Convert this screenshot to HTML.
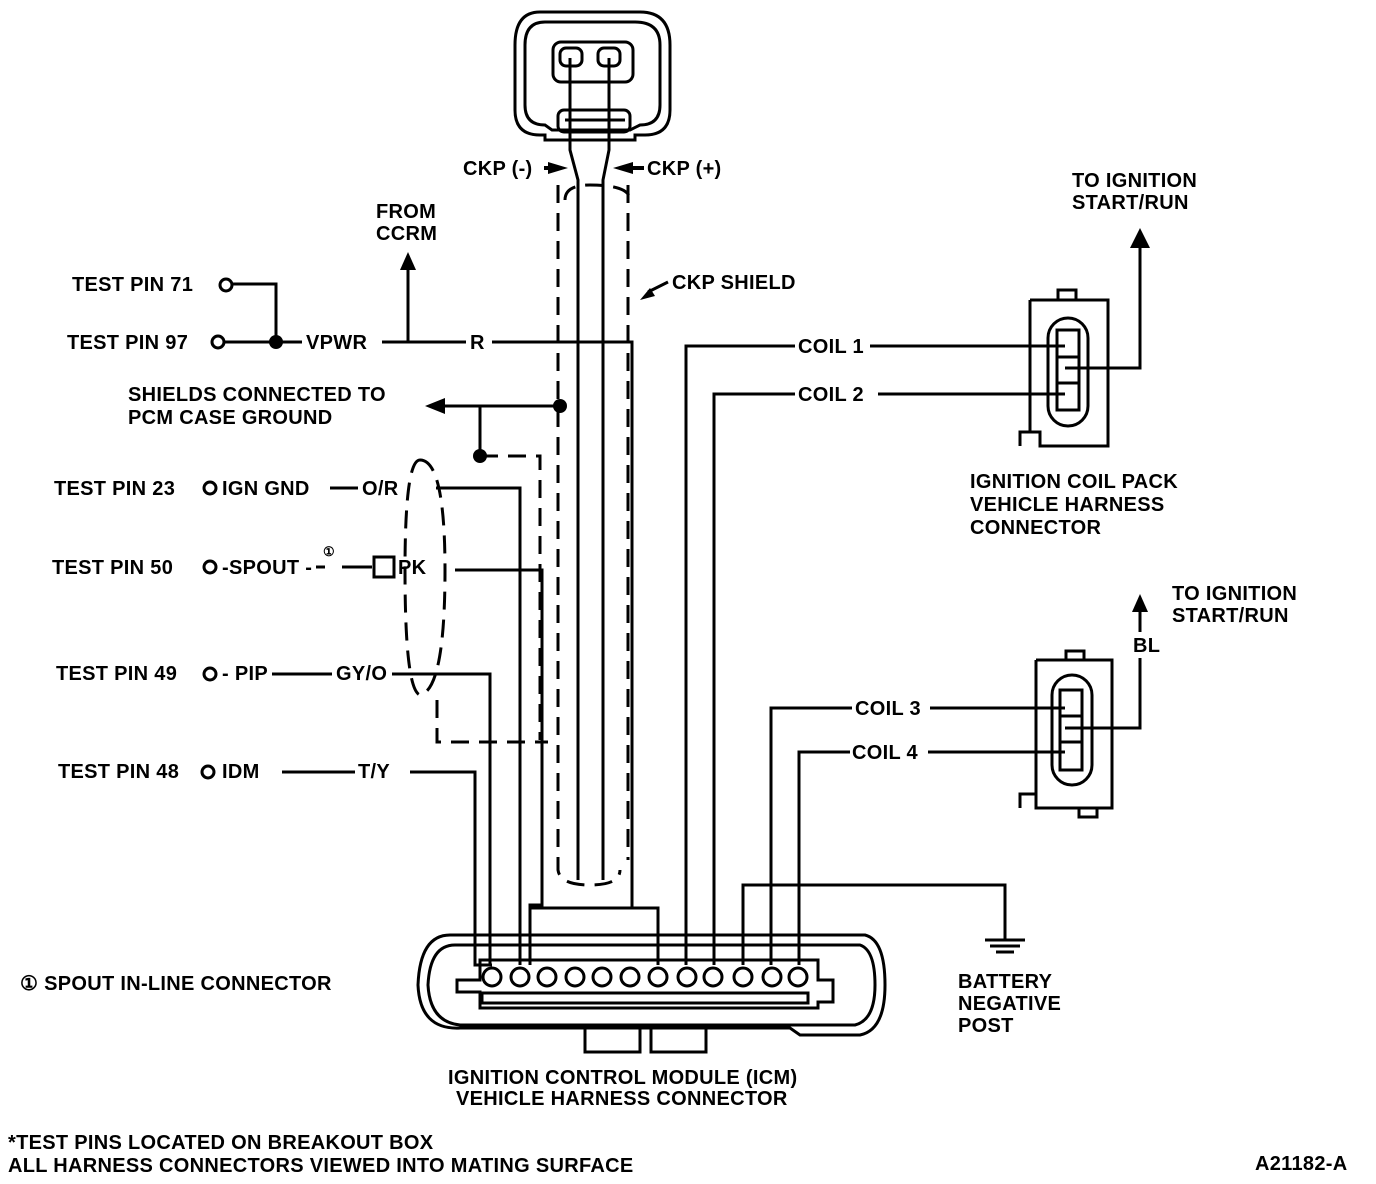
<!DOCTYPE html>
<html><head><style>
body{margin:0;background:#fff}
svg{display:block}
text{font-family:"Liberation Sans",Arial,sans-serif;font-weight:bold;font-size:20px;fill:#000;letter-spacing:0.3px}
</style></head><body>
<svg width="1376" height="1184" viewBox="0 0 1376 1184" xmlns="http://www.w3.org/2000/svg">
<g fill="none" stroke="#000" stroke-width="3">
<path d="M540,12 H640 Q670,12 670,45 V110 Q670,135 645,135 H635 V140 H545 V135 H540 Q515,135 515,110 V45 Q515,12 540,12 Z"/>
<path d="M545,22 H635 Q660,22 660,45 V105 Q660,125 640,125 L630,130 H552 L545,125 Q525,125 525,105 V45 Q525,22 545,22Z"/>
<rect x="553" y="42" width="80" height="40" rx="8"/>
<rect x="560" y="48" width="22" height="18" rx="6"/>
<rect x="598" y="48" width="22" height="18" rx="6"/>
<rect x="558" y="110" width="72" height="22" rx="6"/>
<line x1="565" y1="120" x2="625" y2="120"/>
<path d="M570,58 V150 L578,180 V880"/>
<path d="M609,58 V150 L603,180 V880"/>
<g stroke-dasharray="18,10">
<path d="M558,185 V870 Q560,885 590,885 Q620,885 620,870"/>
<path d="M628,185 V860"/>
<path d="M565,200 Q565,185 590,185 Q630,185 630,200"/>
<path d="M480,456 H540 V740"/>
<path d="M420,460 Q445,460 445,570 Q445,690 420,695 Q405,690 405,570 Q405,460 420,460"/>
<path d="M437,700 V742 H548"/>
</g>
<line x1="440" y1="406" x2="560" y2="406"/>
<line x1="480" y1="406" x2="480" y2="456"/>
<path d="M232,284 H276 V342"/>
<line x1="224" y1="342" x2="302" y2="342"/>
<line x1="382" y1="342" x2="466" y2="342"/>
<line x1="408" y1="342" x2="408" y2="265"/>
<path d="M492,342 H632 V908 H658 V965"/>
<path d="M530,908 H658"/>
<line x1="330" y1="488" x2="358" y2="488"/>
<path d="M436,488 H520 V965"/>
<line x1="316" y1="567" x2="325" y2="567"/>
<line x1="342" y1="567" x2="372" y2="567"/>
<path d="M455,570 H542 V905 H530 V965"/>
<line x1="272" y1="674" x2="332" y2="674"/>
<path d="M392,674 H490 V965"/>
<line x1="282" y1="772" x2="355" y2="772"/>
<path d="M410,772 H475 V965 H492"/>
<path d="M795,346 H686 V965"/>
<path d="M795,394 H714 V965"/>
<path d="M870,346 H1065"/>
<path d="M878,394 H1065"/>
<path d="M1065,368 H1140 V245"/>
<path d="M852,708 H771 V965"/>
<path d="M850,752 H799 V965"/>
<path d="M930,708 H1065"/>
<path d="M928,752 H1065"/>
<path d="M1065,728 H1140 V660"/>
<path d="M743,965 V885 H1005 V940"/>
<line x1="985" y1="940" x2="1025" y2="940"/>
<line x1="990" y1="946" x2="1020" y2="946"/>
<line x1="996" y1="952" x2="1014" y2="952"/>
<path d="M1030,300 H1108 V446 H1040 V432 H1020 V446 M1030,300 V432"/>
<rect x="1058" y="290" width="18" height="10"/>
<rect x="1048" y="318" width="40" height="108" rx="20"/>
<rect x="1057" y="330" width="22" height="80"/>
<line x1="1057" y1="357" x2="1079" y2="357"/>
<line x1="1057" y1="383" x2="1079" y2="383"/>
<path d="M1036,660 H1112 V808 H1036 V794 H1020 V808 M1036,660 V794"/>
<rect x="1066" y="651" width="18" height="9"/>
<rect x="1079" y="808" width="18" height="9"/>
<rect x="1052" y="675" width="40" height="110" rx="20"/>
<rect x="1060" y="690" width="22" height="80"/>
<line x1="1060" y1="716" x2="1082" y2="716"/>
<line x1="1060" y1="742" x2="1082" y2="742"/>
<path d="M450,935 H865 Q885,940 885,985 Q885,1030 860,1035 H800 L790,1028 H460 Q420,1030 418,985 Q420,935 450,935Z"/>
<path d="M455,945 H860 Q875,950 875,985 Q875,1020 855,1025 H460 Q430,1022 428,985 Q430,945 455,945Z"/>
<path d="M480,960 H818 V980 H833 V1002 H818 V1008 H480 V992 H457 V980 H480Z"/>
<rect x="482" y="993" width="326" height="10"/>
<rect x="585" y="1028" width="55" height="24"/>
<rect x="651" y="1028" width="55" height="24"/>
</g>
<g fill="#fff" stroke="#000" stroke-width="3">
<circle cx="492" cy="977" r="9"/><circle cx="520" cy="977" r="9"/><circle cx="547" cy="977" r="9"/><circle cx="575" cy="977" r="9"/><circle cx="602" cy="977" r="9"/><circle cx="630" cy="977" r="9"/><circle cx="658" cy="977" r="9"/><circle cx="687" cy="977" r="9"/><circle cx="713" cy="977" r="9"/><circle cx="743" cy="977" r="9"/><circle cx="772" cy="977" r="9"/><circle cx="798" cy="977" r="9"/>
<circle cx="226" cy="285" r="6"/><circle cx="218" cy="342" r="6"/><circle cx="210" cy="488" r="6"/><circle cx="210" cy="567" r="6"/><circle cx="210" cy="674" r="6"/><circle cx="208" cy="772" r="6"/>
<rect x="374" y="557" width="20" height="20"/>
</g>
<g fill="#000">
<circle cx="276" cy="342" r="7"/><circle cx="560" cy="406" r="7"/><circle cx="480" cy="456" r="7"/>
<polygon points="400,270 408,252 416,270"/>
<polygon points="1130,248 1140,228 1150,248"/>
<polygon points="1132,612 1140,594 1148,612"/>
<polygon points="425,406 445,398 445,414"/>
<polygon points="568,168 548,162 548,174"/><rect x="544" y="166" width="6" height="4"/>
<polygon points="613,168 633,162 633,174"/><rect x="632" y="166" width="12" height="4"/>
<polygon points="640,300 650,288 655,296"/><line x1="648" y1="292" x2="668" y2="282" stroke="#000" stroke-width="3"/>
</g>
<line x1="1140" y1="612" x2="1140" y2="632" stroke="#000" stroke-width="3"/>
<line x1="1140" y1="658" x2="1140" y2="728" stroke="#000" stroke-width="3"/>
<text x="463" y="175">CKP (-)</text>
<text x="647" y="175">CKP (+)</text>
<text x="376" y="218">FROM</text><text x="376" y="240">CCRM</text>
<text x="672" y="289">CKP SHIELD</text>
<text x="72" y="291">TEST PIN 71</text>
<text x="67" y="349">TEST PIN 97</text>
<text x="306" y="349">VPWR</text>
<text x="470" y="349">R</text>
<text x="128" y="401">SHIELDS CONNECTED TO</text>
<text x="128" y="424">PCM CASE GROUND</text>
<text x="54" y="495">TEST PIN 23</text><text x="222" y="495">IGN GND</text><text x="362" y="495">O/R</text>
<text x="52" y="574">TEST PIN 50</text><text x="222" y="574">-SPOUT -</text><text x="323" y="556" style="font-size:13px">①</text><text x="398" y="574">PK</text>
<text x="56" y="680">TEST PIN 49</text><text x="222" y="680">- PIP</text><text x="336" y="680">GY/O</text>
<text x="58" y="778">TEST PIN 48</text><text x="222" y="778">IDM</text><text x="358" y="778">T/Y</text>
<text x="798" y="353">COIL 1</text>
<text x="798" y="401">COIL 2</text>
<text x="855" y="715">COIL 3</text>
<text x="852" y="759">COIL 4</text>
<text x="1072" y="187">TO IGNITION</text><text x="1072" y="209">START/RUN</text>
<text x="1172" y="600">TO IGNITION</text><text x="1172" y="622">START/RUN</text>
<text x="1133" y="652">BL</text>
<text x="970" y="488">IGNITION COIL PACK</text><text x="970" y="511">VEHICLE HARNESS</text><text x="970" y="534">CONNECTOR</text>
<text x="20" y="990">① SPOUT IN-LINE CONNECTOR</text>
<text x="958" y="988">BATTERY</text><text x="958" y="1010">NEGATIVE</text><text x="958" y="1032">POST</text>
<text x="448" y="1084">IGNITION CONTROL MODULE (ICM)</text>
<text x="456" y="1105">VEHICLE HARNESS CONNECTOR</text>
<text x="8" y="1149">*TEST PINS LOCATED ON BREAKOUT BOX</text>
<text x="8" y="1172">ALL HARNESS CONNECTORS VIEWED INTO MATING SURFACE</text>
<text x="1255" y="1170">A21182-A</text>
</svg>
</body></html>
